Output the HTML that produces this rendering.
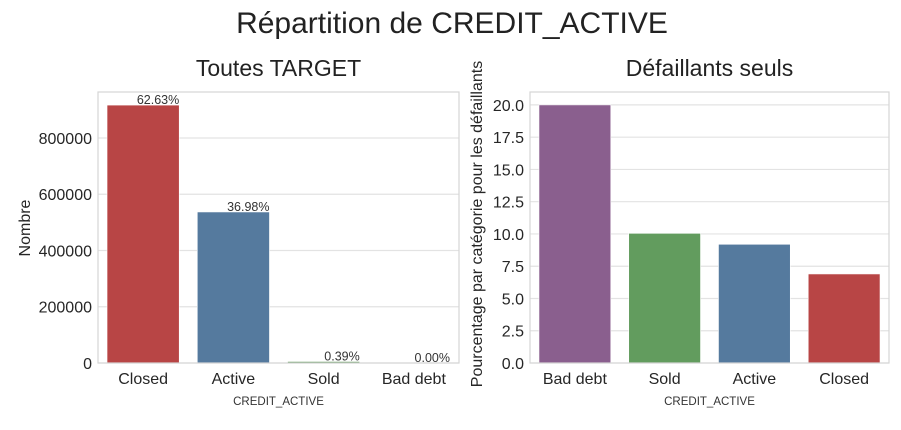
<!DOCTYPE html>
<html><head><meta charset="utf-8"><style>
body{margin:0;background:#fff;font-family:"Liberation Sans",sans-serif}
svg{display:block}
</style></head><body>
<svg id="c" width="901" height="430" font-family="Liberation Sans, sans-serif">
<text x="452" y="33" font-size="30" text-anchor="middle" fill="#222">Répartition de CREDIT_ACTIVE</text>
</svg>
<script>
const leftCats=["Closed","Active","Sold","Bad debt"];
const leftVals=[917000,537000,5400,20];
const leftPct=["62.63%","36.98%","0.39%","0.00%"];
const leftTicks=[0,200000,400000,600000,800000];
const rightCats=["Bad debt","Sold","Active","Closed"];
const rightVals=[20.0,10.05,9.2,6.9];
const rightTicks=[0,2.5,5,7.5,10,12.5,15,17.5,20];
const colors={"Closed":"#b84545","Active":"#557a9e","Sold":"#629c5e","Bad debt":"#8a5f8e"};
const svg=document.getElementById('c');const NS="http://www.w3.org/2000/svg";
function mk(t,a,p){const e=document.createElementNS(NS,t);for(const k in a)e.setAttribute(k,a[k]);(p||svg).appendChild(e);return e;}
function panel(o){
  const g=mk('g',{});
  
  
  const y=v=>o.y1-(v/o.max)*(o.y1-o.y0);
  o.ticks.forEach(t=>{
    const gl=mk('line',{x1:o.x0,x2:o.x1,y1:y(t),y2:y(t),stroke:'#e3e3e3','stroke-width':1.2},g);
    
    
    const tl=mk('text',{x:o.x0-6,y:y(t)+6,'font-size':16,'text-anchor':'end',fill:'#262626'},g);
    tl.textContent=o.fmt(t);
    
    
  });
  const bw=(o.x1-o.x0)/o.cats.length;
  o.cats.forEach((c,i)=>{
    const bx=o.x0+bw*i+bw*0.1,top=y(o.vals[i]);
    const r=mk('rect',{x:bx,y:top,width:bw*0.8,height:o.y1-top,fill:colors[c],stroke:'#fff','stroke-width':0.6},g);
    
    
    const xl=mk('text',{x:bx+bw*0.4,y:o.y1+21,'font-size':16,'text-anchor':'middle',fill:'#262626'},g);
    xl.textContent=c;
    
    
    if(o.pct){
      const p=mk('text',{x:bx+bw*0.8,y:top-1,'font-size':12.5,'text-anchor':'end',fill:'#333'},g);
      p.textContent=o.pct[i];
      
      
    }
  });
  const fr=mk('rect',{x:o.x0,y:o.y0,width:o.x1-o.x0,height:o.y1-o.y0,fill:'none',stroke:'#d6d6d6','stroke-width':1.2},g);
  
  
  const xt=mk('text',{x:(o.x0+o.x1)/2,y:o.y1+42,'font-size':11.5,'text-anchor':'middle',fill:'#333'},g);
  xt.textContent='CREDIT_ACTIVE';
  
  
  const yt=mk('text',{x:0,y:0,'font-size':16,'text-anchor':'middle',fill:'#262626',transform:`translate(${o.ylx},${o.ylc}) rotate(-90)`},g);
  yt.textContent=o.ylabel;
  
  
  const st=mk('text',{x:(o.x0+o.x1)/2,y:76,'font-size':23,'text-anchor':'middle',fill:'#222'},g);
  st.textContent=o.title;
  
  
}
panel({name:'left-panel',x0:98,x1:459,y0:92,y1:363,max:963500,cats:leftCats,vals:leftVals,ticks:leftTicks,pct:leftPct,fmt:t=>String(t),ylabel:'Nombre',ylx:30,ylc:228,title:'Toutes TARGET'});
panel({name:'right-panel',x0:530,x1:889,y0:92,y1:363,max:21.0,cats:rightCats,vals:rightVals,ticks:rightTicks,fmt:t=>t.toFixed(1),ylabel:'Pourcentage par catégorie pour les défaillants',ylx:482,ylc:224,title:'Défaillants seuls'});
</script>
</body></html>
